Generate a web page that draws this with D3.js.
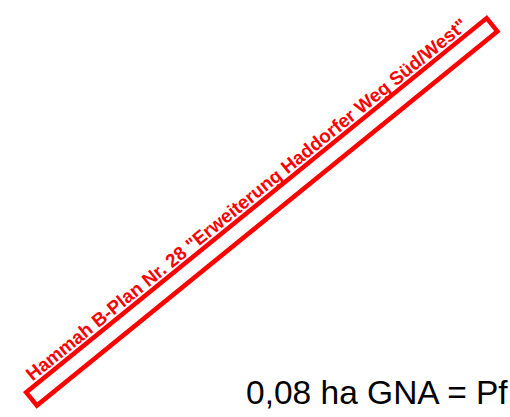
<!DOCTYPE html>
<html>
<head>
<meta charset="utf-8">
<script src="https://cdn.jsdelivr.net/npm/d3@7"></script>
<style>
  body { margin: 0; background: #fff; }
  svg { display: block; }
</style>
</head>
<body>
<svg width="510" height="417"></svg>
<script>
var svg = d3.select("svg");

// labels from the plan sketch
var planLabels = ['Hammah B-Plan Nr. 28 "Erweiterung Haddorfer Weg Süd/West"'];
var areaLabels = ["0,08 ha GNA = Pf"];

// outer corners of the red frame (left-top and right-top), frame thickness
var frameStart = [23, 392],
  frameEnd = [487, 15],
  frameDepth = 21.5,
  strokeW = 4.5;

var dx = frameEnd[0] - frameStart[0],
  dy = frameEnd[1] - frameStart[1],
  len = Math.sqrt(dx * dx + dy * dy),
  angle = Math.atan2(dy, dx) * 180 / Math.PI;

var g = svg.append("g")
  .attr("transform", "translate(" + frameStart[0] + "," + frameStart[1] + ") rotate(" + angle + ")");

g.append("rect")
  .attr("x", strokeW / 2)
  .attr("y", strokeW / 2)
  .attr("width", len - strokeW)
  .attr("height", frameDepth - strokeW)
  .attr("fill", "none")
  .attr("stroke", "#ff0000")
  .attr("stroke-width", strokeW);

g.selectAll("text.plan")
  .data(planLabels)
  .enter()
  .append("text")
  .attr("class", "plan")
  .attr("x", 14)
  .attr("y", -2)
  .attr("fill", "#ff0000")
  .attr("font-family", "Liberation Sans, Arial, sans-serif")
  .attr("font-weight", "bold")
  .attr("font-size", 18.8)
  .text(function(d) { return d; });

// the label runs past the right edge in the original as well
svg.selectAll("text.area")
  .data(areaLabels)
  .enter()
  .append("text")
  .attr("class", "area")
  .attr("x", 246)
  .attr("y", 404)
  .attr("fill", "#000")
  .attr("font-family", "Liberation Sans, Arial, sans-serif")
  .attr("font-size", 33.5)
  .text(function(d) { return d; });
</script>
</body>
</html>
